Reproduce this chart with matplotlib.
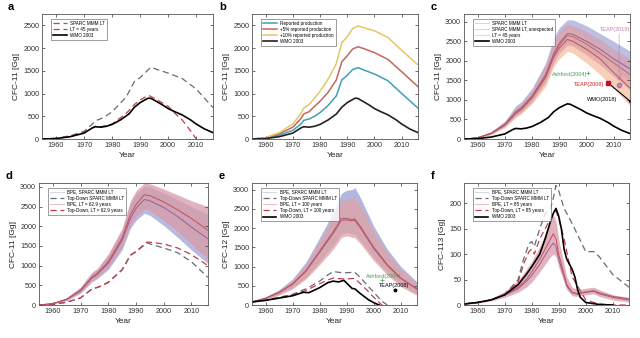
import matplotlib
matplotlib.use("Agg")
import matplotlib.pyplot as plt
import numpy as np

plt.rcParams['font.family'] = ['Liberation Sans', 'DejaVu Sans']

# ---------------- data ----------------
# WMO 2003 CFC-11 bank
wmo11_years = [1955, 1960, 1965, 1970, 1973, 1974, 1976, 1978, 1980, 1983, 1986, 1988, 1990, 1992, 1993,
               1994, 1996, 1998, 2000, 2002, 2005, 2008, 2010, 2013, 2016]
wmo11 = [0, 10, 50, 130, 245, 270, 260, 280, 320, 420, 550, 700, 800, 870, 900,
         890, 820, 750, 670, 610, 530, 420, 330, 220, 140]

# panel a
sparc_a_years = [1955, 1960, 1965, 1970, 1973, 1974, 1977, 1980, 1985, 1988, 1990, 1993, 1994, 1996, 2000, 2005, 2010, 2016]
sparc_a = [0, 15, 70, 170, 330, 400, 470, 600, 920, 1270, 1350, 1530, 1580, 1530, 1450, 1330, 1100, 690]
lt45_a_years = [1955, 1960, 1965, 1970, 1974, 1976, 1980, 1985, 1988, 1990, 1993, 1995, 2000, 2003, 2005, 2008, 2010]
lt45_a = [0, 10, 55, 140, 280, 270, 330, 560, 760, 860, 960, 900, 720, 530, 420, 180, 0]

# panel b
prod_years = [1955, 1960, 1965, 1970, 1973, 1974, 1976, 1978, 1980, 1983, 1986, 1988, 1990, 1992, 1994,
              1996, 2000, 2005, 2010, 2016]
reported = [0, 20, 80, 190, 330, 410, 440, 500, 580, 740, 950, 1300, 1400, 1530, 1570,
            1520, 1430, 1280, 1000, 680]
plus5 = [0, 25, 110, 260, 450, 550, 600, 720, 830, 1030, 1300, 1700, 1830, 1980, 2030,
         1990, 1900, 1750, 1480, 1150]
plus10 = [0, 30, 140, 330, 560, 680, 760, 900, 1050, 1320, 1660, 2120, 2250, 2430, 2490,
          2450, 2380, 2230, 1950, 1630]

# panel c (CFC-11 bottom-up banks)
c_years = [1955, 1960, 1965, 1970, 1974, 1976, 1980, 1985, 1988, 1990, 1993, 1995, 2000, 2005, 2010, 2016]
c_sparc = [0, 30, 150, 380, 700, 800, 1100, 1650, 2200, 2450, 2700, 2680, 2500, 2300, 2050, 1800]
c_unexp = [0, 30, 150, 370, 680, 780, 1080, 1620, 2150, 2400, 2650, 2620, 2430, 2200, 1950, 1650]
c_lt45 = [0, 30, 140, 350, 650, 750, 1050, 1580, 2100, 2330, 2550, 2500, 2300, 2050, 1700, 1300]
c_sparc_lo = [0, 25, 130, 330, 600, 700, 980, 1500, 2000, 2250, 2450, 2430, 2250, 2050, 1800, 1500]
c_sparc_hi = [0, 40, 190, 460, 850, 950, 1300, 1950, 2600, 2850, 3050, 3050, 2900, 2700, 2500, 2250]
c_unexp_lo = [0, 25, 120, 320, 580, 680, 950, 1450, 1950, 2200, 2400, 2380, 2150, 1900, 1600, 1250]
c_unexp_hi = [0, 40, 180, 430, 800, 900, 1250, 1900, 2500, 2750, 2950, 2900, 2750, 2550, 2300, 2050]
c_lt45_lo = [0, 20, 110, 290, 550, 640, 900, 1350, 1850, 2050, 2250, 2200, 1950, 1650, 1300, 850]
c_lt45_hi = [0, 35, 170, 410, 760, 860, 1200, 1800, 2400, 2650, 2850, 2800, 2600, 2350, 2050, 1650]
wmo2018_years = [2008, 2016]
wmo2018 = [1430, 970]

# panel d
d_years = [1955, 1960, 1965, 1970, 1974, 1976, 1980, 1985, 1988, 1990, 1993, 1995, 2000, 2005, 2010, 2016]
d_sparc = [0, 35, 140, 360, 680, 780, 1060, 1640, 2200, 2450, 2680, 2650, 2480, 2250, 1980, 1680]
d_lt62 = [0, 40, 150, 380, 700, 800, 1100, 1700, 2300, 2550, 2800, 2780, 2620, 2420, 2200, 1900]
d_sparc_lo = [0, 25, 110, 300, 580, 670, 900, 1400, 1950, 2150, 2330, 2280, 2020, 1720, 1400, 1050]
d_sparc_hi = [0, 45, 180, 440, 800, 900, 1260, 1900, 2580, 2820, 3020, 3000, 2850, 2680, 2500, 2300]
d_lt_lo = [0, 30, 120, 320, 610, 700, 950, 1480, 2030, 2250, 2430, 2400, 2150, 1870, 1550, 1150]
d_lt_hi = [0, 50, 190, 460, 830, 930, 1300, 1950, 2650, 2900, 3100, 3080, 2950, 2800, 2650, 2500]
td_years = [1955, 1960, 1965, 1970, 1974, 1977, 1980, 1985, 1988, 1990, 1994, 1996, 2000, 2005, 2010, 2016]
td_sparc = [0, 15, 70, 180, 400, 470, 580, 900, 1270, 1350, 1580, 1530, 1450, 1330, 1100, 700]
td_lt62 = [0, 15, 70, 180, 400, 470, 570, 890, 1260, 1360, 1600, 1590, 1550, 1450, 1280, 1000]

# panel e (CFC-12)
e_years = [1955, 1960, 1965, 1970, 1975, 1980, 1985, 1988, 1990, 1992, 1993, 1995, 2000, 2005, 2010, 2016]
e_sparc = [80, 180, 330, 550, 900, 1400, 1900, 2250, 2250, 2220, 2240, 2050, 1500, 1050, 700, 420]
e_lt100 = [80, 175, 320, 540, 880, 1370, 1860, 2200, 2210, 2190, 2200, 2010, 1470, 1030, 690, 410]
e_sparc_lo = [75, 150, 280, 450, 720, 1120, 1540, 1850, 1880, 1850, 1840, 1680, 1220, 840, 530, 290]
e_sparc_hi = [90, 210, 400, 680, 1120, 1750, 2400, 2900, 2980, 3000, 3050, 2800, 2050, 1450, 1000, 600]
e_lt_lo = [70, 140, 260, 420, 680, 1050, 1450, 1750, 1800, 1760, 1750, 1600, 1150, 780, 480, 250]
e_lt_hi = [85, 200, 380, 640, 1050, 1650, 2250, 2700, 2760, 2760, 2800, 2580, 1900, 1350, 930, 560]
e_td_years = [1955, 1960, 1965, 1970, 1975, 1980, 1983, 1985, 1988, 1990, 1993, 1995, 1998, 2000, 2003, 2005]
e_td_sparc = [80, 130, 200, 280, 420, 620, 780, 870, 840, 840, 850, 720, 480, 330, 100, 0]
e_td_lt100 = [80, 120, 190, 260, 380, 550, 650, 700, 680, 680, 690, 560, 350, 200, 0, -60]
wmo12_years = [1955, 1960, 1965, 1970, 1974, 1976, 1980, 1983, 1985, 1987, 1989, 1990, 1992, 1993,
               1995, 1998, 2000, 2002]
wmo12 = [80, 120, 180, 240, 330, 320, 450, 580, 620, 600, 640, 570, 430, 420, 300, 140, 60, 0]

# panel f (CFC-113)
f_years = [1955, 1960, 1965, 1970, 1975, 1978, 1980, 1983, 1985, 1987, 1988, 1989, 1990, 1992, 1993,
           1995, 1997, 2000, 2003, 2005, 2010, 2016]
f_lt85 = [2, 5, 10, 20, 35, 50, 65, 90, 110, 130, 140, 130, 100, 60, 40, 25, 22, 25, 27, 22, 15, 10]
f_sparc = [2, 5, 10, 19, 32, 46, 58, 80, 98, 115, 122, 115, 90, 55, 37, 24, 21, 26, 28, 24, 17, 12]
f_lo = [1, 4, 8, 15, 25, 35, 45, 65, 80, 95, 100, 95, 75, 45, 30, 18, 17, 20, 22, 17, 10, 6]
f_hi = [3, 7, 13, 27, 48, 70, 85, 115, 140, 165, 178, 165, 130, 80, 55, 35, 30, 33, 35, 30, 20, 15]
f_td_years = [1955, 1960, 1965, 1970, 1975, 1977, 1979, 1980, 1981, 1983, 1985, 1987, 1988, 1989, 1990,
              1992, 1995, 2000, 2003, 2005, 2010, 2016]
f_td_sparc = [2, 5, 10, 20, 50, 90, 120, 125, 115, 150, 180, 190, 210, 235, 225, 190, 160, 105, 105, 95, 60, 35]
f_td_lt85 = [2, 5, 10, 20, 45, 80, 105, 110, 100, 130, 150, 170, 180, 185, 170, 130, 55, 10, 5, 2, 0, 0]
wmo113_years = [1955, 1960, 1965, 1970, 1975, 1978, 1980, 1983, 1985, 1987, 1988, 1989, 1990, 1991,
                1992, 1993, 1994, 1995, 1996, 1997, 1998, 2000, 2005, 2010]
wmo113 = [2, 5, 10, 20, 40, 60, 75, 100, 130, 165, 180, 190, 175, 150, 110, 90, 80, 70, 55, 30, 15, 5, 1, 0]

# ---------------- styling ----------------
LAV = '#a6aad8'
PINK = '#d99aa8'
ORANGE = '#f6bc9c'
PURPLE_LINE = '#9a5f8c'
RED_LINE = '#c0505a'
GRAY_DASH = '#6a6a78'
RED_DASH = '#c0404a'
FS = 5.2

fig = plt.figure(figsize=(6.4, 3.38), dpi=100)
W, H = 640.0, 338.0


def make_ax(x0, x1, y0, y1):
    return fig.add_axes([x0 / W, 1 - y1 / H, (x1 - x0) / W, (y1 - y0) / H])


def style(ax, ylim, yticks, ylabel, letter):
    ax.set_xlim(1955, 2016)
    ax.set_ylim(*ylim)
    ax.set_xticks([1960, 1970, 1980, 1990, 2000, 2010])
    ax.set_yticks(yticks)
    ax.tick_params(direction='in', length=2, width=0.5, labelsize=FS, colors='#333333',
                   top=True, right=True, pad=2)
    for s in ax.spines.values():
        s.set_linewidth(0.6)
        s.set_color('#555555')
    ax.set_xlabel('Year', fontsize=6, labelpad=2, color='#222222')
    ax.set_ylabel(ylabel, fontsize=6, labelpad=2, color='#222222')
    ax.text(-0.2, 1.02, letter, transform=ax.transAxes, fontsize=8, fontweight='bold',
            va='bottom', ha='left')


def legend(ax):
    lg = ax.legend(loc='upper left', fontsize=3.3, frameon=True, fancybox=False,
                   edgecolor='#555555', handlelength=3, borderpad=0.4, labelspacing=0.25,
                   bbox_to_anchor=(0.04, 0.98))
    lg.get_frame().set_linewidth(0.5)


# panel a
ax = make_ax(42, 213, 14, 139)
ax.plot(sparc_a_years, sparc_a, color=GRAY_DASH, ls=(0, (5, 3)), lw=0.9, label='SPARC MMM LT')
ax.plot(lt45_a_years, lt45_a, color=RED_DASH, ls=(0, (5, 3)), lw=0.9, label='LT = 45 years')
ax.plot(wmo11_years, wmo11, color='black', lw=1.2, label='WMO 2003')
style(ax, (0, 2750), [0, 500, 1000, 1500, 2000, 2500], 'CFC-11 [Gg]', 'a')
legend(ax)

# panel b
ax = make_ax(252, 418, 14, 139)
ax.plot(prod_years, reported, color='#3f9fb8', lw=1.1, label='Reported production')
ax.plot(prod_years, plus5, color='#c2675e', lw=1.1, label='+5% reported production')
ax.plot(prod_years, plus10, color='#e2c866', lw=1.1, label='+10% reported production')
ax.plot(wmo11_years, wmo11, color='#222222', lw=1.2, label='WMO 2003')
style(ax, (0, 2750), [0, 500, 1000, 1500, 2000, 2500], 'CFC-11 [Gg]', 'b')
legend(ax)

# panel c
ax = make_ax(464, 630, 14, 139)
ax.fill_between(c_years, c_sparc_lo, c_sparc_hi, color=LAV, alpha=0.75, lw=0)
ax.fill_between(c_years, c_lt45_lo, c_lt45_hi, color=ORANGE, alpha=0.7, lw=0)
ax.fill_between(c_years, c_unexp_lo, c_unexp_hi, color=PINK, alpha=0.6, lw=0)
ax.plot(c_years, c_sparc, color=PURPLE_LINE, lw=0.7)
ax.plot(c_years, c_unexp, color='#a86a86', lw=0.7)
ax.plot(c_years, c_lt45, color=RED_LINE, lw=0.7)
ax.plot([], [], color='#d6d6e6', lw=0.8, label='SPARC MMM LT')
ax.plot([], [], color='#e6d0d6', lw=0.8, label='SPARC MMM LT, unexpected')
ax.plot([], [], color='#f0d8cc', lw=0.8, label='LT = 45 years')
ax.plot(wmo11_years, wmo11, color='black', lw=1.2, label='WMO 2003')
ax.plot(wmo2018_years, wmo2018, color='black', lw=0.8, marker='.', markersize=2.5, markevery=[1])
ax.plot([2008], [1430], marker='s', color='#c0102a', markersize=3.5)
ax.plot([2012], [1380], marker='o', color='#b070a8', markersize=3, mfc='#c890c0')
ax.annotate('', xy=(2012, 1430), xytext=(2012, 2750),
            arrowprops=dict(arrowstyle='->', color='#b070a8', lw=0.5, ls=':'))
ax.text(2016, 2800, 'TEAP(2019)', color='#c080b0', fontsize=4, ha='right', va='center')
ax.text(2000.5, 1640, 'Ashford(2004)', color='#40a050', fontsize=4, ha='right', va='center')
ax.plot([2000.5], [1700], marker='+', color='#40a050', markersize=2.5, mew=0.5)
ax.text(2006.5, 1400, 'TEAP(2008)', color='#d02030', fontsize=4, ha='right', va='center')
ax.text(2011.5, 1010, 'WMO(2018)', color='black', fontsize=4, ha='right', va='center')
style(ax, (0, 3200), [0, 500, 1000, 1500, 2000, 2500, 3000], 'CFC-11 [Gg]', 'c')
legend(ax)

# panel d
ax = make_ax(39, 208, 183, 305)
ax.fill_between(d_years, d_sparc_lo, d_sparc_hi, color=LAV, alpha=0.8, lw=0)
ax.fill_between(d_years, d_lt_lo, d_lt_hi, color=PINK, alpha=0.75, lw=0)
ax.plot(d_years, d_sparc, color=PURPLE_LINE, lw=0.7)
ax.plot(d_years, d_lt62, color=RED_LINE, lw=0.7)
ax.plot([], [], color='#d6d6e6', lw=0.8, label='BPE, SPARC MMM LT')
ax.plot(td_years, td_sparc, color=GRAY_DASH, ls=(0, (5, 3)), lw=0.9, label='Top-Down SPARC MMM LT')
ax.plot([], [], color='#e6c0c8', lw=0.8, label='BPE, LT = 62.9 years')
ax.plot(td_years, td_lt62, color=RED_DASH, ls=(0, (5, 3)), lw=0.9, label='Top-Down, LT = 62.9 years')
style(ax, (0, 3100), [0, 500, 1000, 1500, 2000, 2500, 3000], 'CFC-11 [Gg]', 'd')
legend(ax)

# panel e
ax = make_ax(252, 417, 183, 305)
ax.fill_between(e_years, e_sparc_lo, e_sparc_hi, color=LAV, alpha=0.85, lw=0)
ax.fill_between(e_years, e_lt_lo, e_lt_hi, color=ORANGE, alpha=0.45, lw=0)
ax.fill_between(e_years, e_lt_lo, e_lt_hi, color=PINK, alpha=0.55, lw=0)
ax.plot(e_years, e_sparc, color=PURPLE_LINE, lw=0.7)
ax.plot(e_years, e_lt100, color=RED_LINE, lw=0.7)
ax.plot([], [], color='#d6d6e6', lw=0.8, label='BPE, SPARC MMM LT')
ax.plot(e_td_years, e_td_sparc, color=GRAY_DASH, ls=(0, (5, 3)), lw=0.9, label='Top-Down SPARC MMM LT')
ax.plot([], [], color='#e6c0c8', lw=0.8, label='BPE, LT = 100 years')
ax.plot(e_td_years, e_td_lt100, color=RED_DASH, ls=(0, (5, 3)), lw=0.9, label='Top-Down, LT = 100 years')
ax.plot(wmo12_years, wmo12, color='black', lw=1.2, label='WMO 2003')
ax.plot([2003], [650], marker='+', color='#40a050', markersize=2.5, mew=0.5)
ax.text(1997, 740, 'Ashford(2004)', color='#40a050', fontsize=4, ha='left', va='center')
ax.plot([2008], [400], marker='*', color='black', markersize=2.5)
ax.text(2002, 500, 'TEAP(2008)', color='black', fontsize=4, ha='left', va='center')
style(ax, (0, 3170), [0, 500, 1000, 1500, 2000, 2500, 3000], 'CFC-12 [Gg]', 'e')
legend(ax)

# panel f
ax = make_ax(464, 629, 183, 305)
ax.fill_between(f_years, f_lo, f_hi, color=PINK, alpha=0.75, lw=0)
ax.plot(f_years, f_sparc, color=PURPLE_LINE, lw=0.7)
ax.plot(f_years, f_lt85, color=RED_LINE, lw=0.7)
ax.plot([], [], color='#d6d6e6', lw=0.8, label='BPE, SPARC MMM LT')
ax.plot(f_td_years, f_td_sparc, color=GRAY_DASH, ls=(0, (5, 3)), lw=0.9, label='Top-Down SPARC MMM LT')
ax.plot([], [], color='#e6c0c8', lw=0.8, label='BPE, LT = 85 years')
ax.plot(f_td_years, f_td_lt85, color=RED_DASH, ls=(0, (5, 3)), lw=0.9, label='Top-Down, LT = 85 years')
ax.plot(wmo113_years, wmo113, color='black', lw=1.2, label='WMO 2003')
style(ax, (0, 240), [0, 50, 100, 150, 200], 'CFC-113 [Gg]', 'f')
legend(ax)

fig.savefig('out.png', dpi=100)
